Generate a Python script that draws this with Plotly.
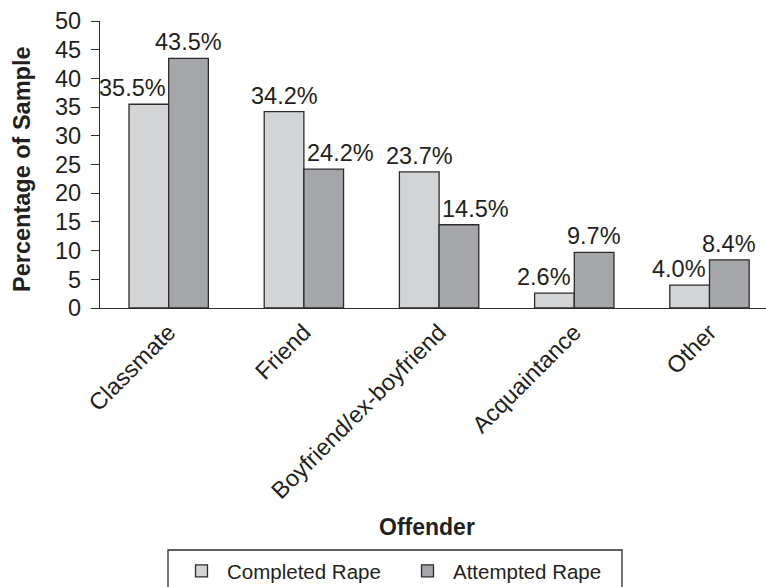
import plotly.graph_objects as go

categories = ["Classmate", "Friend", "Boyfriend/ex-boyfriend", "Acquaintance", "Other"]
completed = [35.5, 34.2, 23.7, 2.6, 4.0]
attempted = [43.5, 24.2, 14.5, 9.7, 8.4]
series_names = ["Completed Rape", "Attempted Rape"]
y_ticks = [0, 5, 10, 15, 20, 25, 30, 35, 40, 45, 50]

# label styling (alignment relative to bar)
completed_align = ["right", "center", "center", "right", "right"]
attempted_align = ["center", "left", "left", "center", "center"]

FONT = "Liberation Sans, Arial, Helvetica, sans-serif"
TXT = "#231f20"
LINE = "#2b2b2b"
LIGHT = "#d3d4d6"
DARK = "#a5a6a9"

fig = go.Figure()
fig.add_trace(go.Bar(name=series_names[0], x=categories, y=completed,
                     marker=dict(color=LIGHT, line=dict(color=LINE, width=1.3))))
fig.add_trace(go.Bar(name=series_names[1], x=categories, y=attempted,
                     marker=dict(color=DARK, line=dict(color=LINE, width=1.3))))

half = 19.8
annotations = []
for vals, aligns, off in ((completed, completed_align, -half), (attempted, attempted_align, half)):
    for c, v, a in zip(categories, vals, aligns):
        if a == "center":
            xs = off
        elif a == "right":
            xs = off + half - 1
        else:
            xs = off - half + 1
        annotations.append(dict(x=c, y=v, xref="x", yref="y", text=f"{v:.1f}%",
                                showarrow=False, xanchor=a, yanchor="bottom",
                                xshift=xs, yshift=1,
                                font=dict(family=FONT, size=23.5, color=TXT)))

# axis titles
annotations.append(dict(x=(427 - 100) / 666, y=(308 - 527) / 287, xref="paper", yref="paper",
                        text="<b>Offender</b>", showarrow=False, xanchor="center", yanchor="middle",
                        font=dict(family=FONT, size=23, color=TXT)))
annotations.append(dict(x=-(100 - 22) / 666, y=(308 - 169) / 287, xref="paper", yref="paper",
                        text="<b>Percentage of Sample</b>", showarrow=False, textangle=-90,
                        xanchor="center", yanchor="middle",
                        font=dict(family=FONT, size=23.5, color=TXT)))

fig.update_layout(
    width=766, height=587,
    margin=dict(l=100, r=0, t=21, b=279, pad=0),
    paper_bgcolor="white", plot_bgcolor="white",
    barmode="group", bargap=0.413, bargroupgap=0,
    font=dict(family=FONT, size=23.5, color=TXT),
    showlegend=True,
    legend=dict(orientation="h", xref="container", yref="container",
                x=402 / 766, y=1 - 571 / 587, xanchor="center", yanchor="middle",
                font=dict(family=FONT, size=20.5, color=TXT), itemwidth=41,
                bgcolor="rgba(0,0,0,0)", borderwidth=0, entrywidth=170),
    annotations=annotations,
    shapes=[dict(type="rect", xref="paper", yref="paper",
                 x0=(168 - 100) / 666, x1=(622 - 100) / 666,
                 y0=(308 - 550) / 287, y1=(308 - 600) / 287,
                 line=dict(color=LINE, width=1.3), fillcolor="rgba(0,0,0,0)")],
)
fig.update_xaxes(type="category", range=[-0.508, 4.418], showline=True, linecolor=LINE,
                 linewidth=1.3, ticks="", tickangle=-45, showgrid=False, zeroline=False,
                 automargin=False, tickfont=dict(family=FONT, size=23.5, color=TXT))
fig.update_yaxes(range=[0, 50], tickvals=y_ticks, showline=True, linecolor=LINE, linewidth=1.3,
                 ticks="outside", ticklen=8, tickcolor=LINE, tickwidth=1.3, showgrid=False,
                 zeroline=False, automargin=False, ticklabelstandoff=5,
                 tickfont=dict(family=FONT, size=23.5, color=TXT))

fig.write_html("out.html")
